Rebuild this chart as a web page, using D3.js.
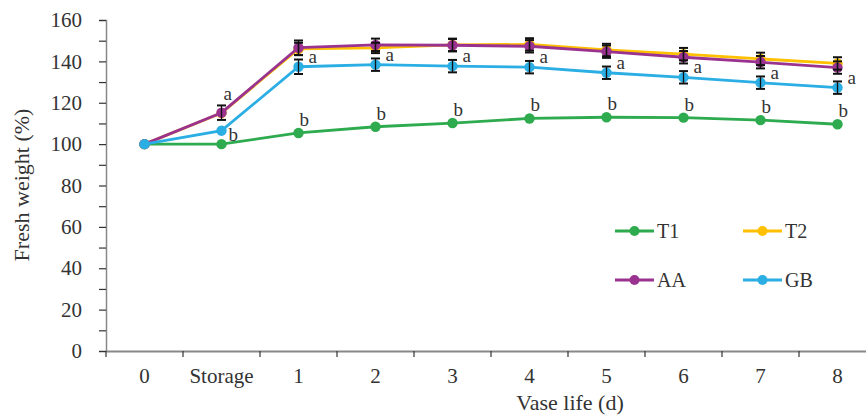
<!DOCTYPE html>
<html><head><meta charset="utf-8">
<script src="https://cdn.jsdelivr.net/npm/d3@7"></script>
<style>body{margin:0;background:#fff}</style>
</head><body><svg id="c" width="866" height="416"></svg>
<script>
const categories = ["0","Storage","1","2","3","4","5","6","7","8"];
const yTicks = [0,20,40,60,80,100,120,140,160];
const seriesNames = ["T1","T2","AA","GB"];
const T1 = [100,100,105.4,108.4,110.2,112.4,113,112.8,111.6,109.6];
const T2 = [100,115,146,146.5,148,148.2,145.5,143.5,141.2,139];
const AA = [100,115.2,146.6,148,147.8,147.3,144.7,142,139.6,137];
const GB = [100,106.5,137.4,138.4,137.7,137.2,134.5,132.3,129.7,127.3];
const errT1 = [0,0,0,0,0,0,0,0,0,0];
const errT2 = [0,0,3,2.5,3,3,3,3,3,3];
const errAA = [0,3.5,3.5,3,3,3,3,3,3,3];
const errGB = [0,0,3.5,3,3,3,3,3,3,3];
const lettersT1 = ["","","b","b","b","b","b","b","b","b"];
const lettersAA = ["","a","","","","","","","",""];
const lettersGB = ["","b","a","a","a","a","a","a","a","a"];
const colors = {T1:"#2eaa4f",T2:"#ffc000",AA:"#9a3390",GB:"#2aaee4"};
const FONT = "'Liberation Serif'";
const TXT = "#333";

const svg = d3.select("#c");
const x = d3.scaleBand().domain(categories).range([106,876]);
const y = d3.scaleLinear().domain([0,160]).range([351,20]);
const cx = c => x(c) + x.bandwidth()/2;
const ft = sel => sel.style("font-family",FONT).attr("fill",TXT);

// Y axis
const yAxis = d3.axisLeft(y).tickValues(d3.range(0,161,10)).tickSize(7).tickPadding(17)
  .tickFormat(d => yTicks.includes(d) ? d : "");
const gy = svg.append("g").attr("transform","translate(106,0)").call(yAxis);
gy.select(".domain").attr("stroke","#888").attr("stroke-width",1.5);
gy.selectAll(".tick line").attr("stroke","#333").attr("stroke-width",1.2);
gy.selectAll(".tick text").attr("font-size",21).call(ft);

// X axis
const xAxis = d3.axisBottom(x).tickSize(0).tickPadding(0);
const gx = svg.append("g").attr("transform","translate(0,351)").call(xAxis);
gx.select(".domain").attr("stroke","#888").attr("stroke-width",2);
gx.selectAll(".tick text").attr("font-size",21).attr("dy",0).attr("y",32).call(ft);
gx.selectAll(".sep").data(categories).enter().append("line")
  .attr("x1",d=>x(d)).attr("x2",d=>x(d)).attr("y1",0).attr("y2",6)
  .attr("stroke","#333").attr("stroke-width",1.2);

svg.append("text").attr("transform","translate(29,185) rotate(-90)").attr("text-anchor","middle")
  .attr("font-size",22).call(ft).text("Fresh weight (%)");
svg.append("text").attr("x",570).attr("y",410).attr("text-anchor","middle").attr("font-size",22)
  .call(ft).text("Vase life (d)");

const data = {T1,T2,AA,GB};
const errs = {T1:errT1,T2:errT2,AA:errAA,GB:errGB};
const line = d3.line().x((d,i)=>cx(categories[i])).y(d=>y(d));

["T1","T2","AA","GB"].forEach(s=>{
  svg.append("path").datum(data[s]).attr("d",line).attr("fill","none")
    .attr("stroke",colors[s]).attr("stroke-width",2.8);
  svg.selectAll(null).data(data[s]).enter().append("circle")
    .attr("cx",(d,i)=>cx(categories[i])).attr("cy",d=>y(d)).attr("r",5.2).attr("fill",colors[s]);
});
// error bars
["T2","AA","GB"].forEach(s=>{
  const g = svg.append("g").attr("stroke","#111").attr("stroke-width",2);
  data[s].forEach((v,i)=>{
    const e = errs[s][i]; if(!e) return;
    const xx = cx(categories[i]);
    g.append("line").attr("x1",xx).attr("x2",xx).attr("y1",y(v-e)).attr("y2",y(v+e)).attr("stroke-width",1.3);
    g.append("line").attr("x1",xx-4.5).attr("x2",xx+4.5).attr("y1",y(v-e)).attr("y2",y(v-e));
    g.append("line").attr("x1",xx-4.5).attr("x2",xx+4.5).attr("y1",y(v+e)).attr("y2",y(v+e));
  });
});
// significance letters
const lg = svg.append("g");
const letter = (xx,yy,t) => lg.append("text").attr("x",xx).attr("y",yy).attr("font-size",19).call(ft).text(t);
lettersT1.forEach((t,i)=>{ if(t) letter(cx(categories[i])+1, y(T1[i])-7, t); });
lettersAA.forEach((t,i)=>{ if(t) letter(cx(categories[i])+2, y(AA[i])-13, t); });
lettersGB.forEach((t,i)=>{ if(!t) return;
  if(i===1) letter(cx(categories[i])+7, y(GB[i])+10, t);
  else letter(cx(categories[i])+10, y(GB[i])-4, t);
});

// legend
const legPos = {T1:[615,231],T2:[743,231],AA:[615,280],GB:[743,280]};
seriesNames.forEach(s=>{
  const [lx,ly] = legPos[s];
  svg.append("line").attr("x1",lx).attr("x2",lx+39).attr("y1",ly).attr("y2",ly).attr("stroke",colors[s]).attr("stroke-width",2.8);
  svg.append("circle").attr("cx",lx+19.5).attr("cy",ly).attr("r",5).attr("fill",colors[s]);
  svg.append("text").attr("x",lx+42).attr("y",ly+7).attr("font-size",20).call(ft).text(s);
});
</script></body></html>
